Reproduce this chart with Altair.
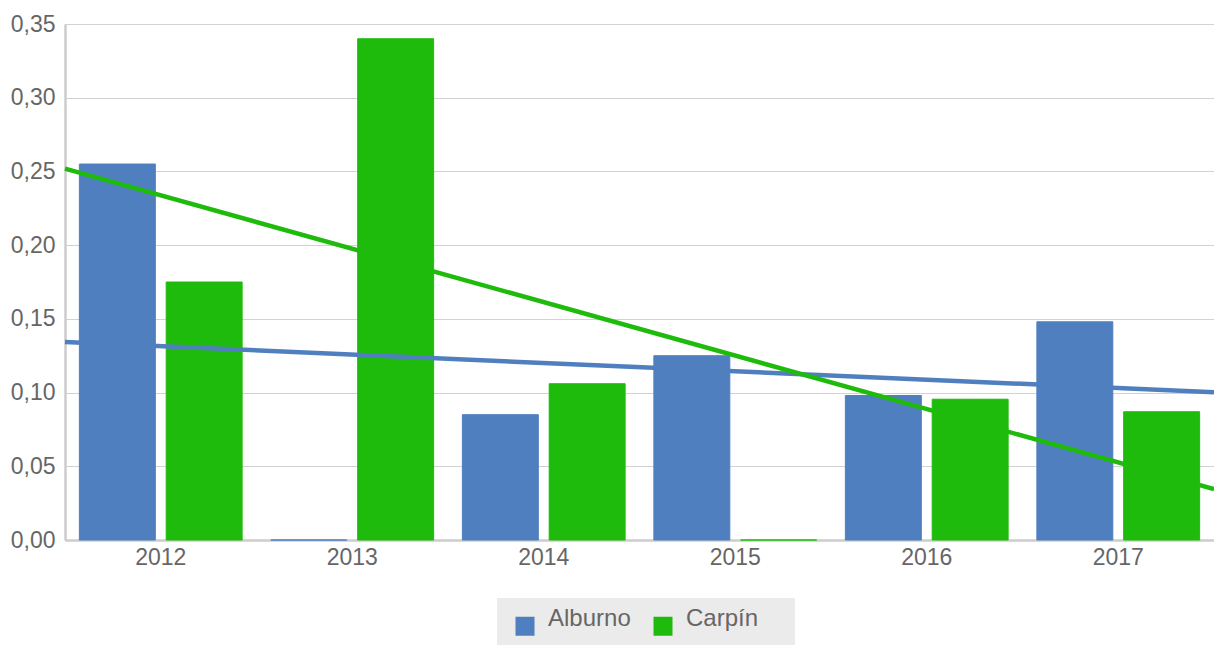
import altair as alt
import pandas as pd

years = ["2012", "2013", "2014", "2015", "2016", "2017"]
series_names = ["Alburno", "Carpín"]
alburno = [0.255, 0.0, 0.085, 0.125, 0.098, 0.148]
carpin = [0.175, 0.34, 0.106, 0.0, 0.0955, 0.087]
# trend lines: value at left edge and right edge of the plot
trend_start = [0.1343, 0.2519]
trend_end = [0.1002, 0.0345]
y_ticks = [0, 0.05, 0.10, 0.15, 0.20, 0.25, 0.30, 0.35]
colors = ["#4F7FBF", "#1FBB0C"]

bars_df = pd.DataFrame({
    "Año": years * 2,
    "Serie": [series_names[0]] * len(years) + [series_names[1]] * len(years),
    "Valor": alburno + carpin,
})
trend_df = pd.DataFrame({
    "Serie": series_names * 2,
    "pos": [0, 0, 1, 1],
    "Valor": trend_start + trend_end,
})

FONT = "Liberation Sans"
GRAY = "#666666"

color_scale = alt.Scale(domain=series_names, range=colors)
legend = alt.Legend(
    title=None, orient="none", legendX=432, legendY=574, direction="horizontal",
    fillColor="#ebebeb", padding=16,
    symbolType="square", symbolSize=361, symbolStrokeWidth=0, symbolOpacity=1,
    labelFont=FONT, labelFontSize=24, labelColor=GRAY, labelLimit=300,
    labelOffset=11, columnPadding=20, labelBaseline="alphabetic",
    labelExpr="datum.label == 'Carpín' ? 'Carpín   \u200b' : datum.label",
)

y_enc = alt.Y(
    "Valor:Q",
    scale=alt.Scale(domain=[0, 0.35], nice=False),
    axis=alt.Axis(
        title=None, values=y_ticks, ticks=False,
        labelExpr="replace(format(datum.value, '.2f'), '.', ',')",
        labelFont=FONT, labelFontSize=23, labelColor=GRAY, labelPadding=10,
        domainColor="#cccccc", domainWidth=2.5,
        gridColor="#d2d2d2", gridWidth=1.2,
    ),
)

bars = alt.Chart(bars_df).mark_bar(strokeWidth=1).encode(
    x=alt.X("Año:N", sort=years,
            scale=alt.Scale(paddingInner=0.15, paddingOuter=0.075),
            axis=alt.Axis(title=None, labelAngle=0, ticks=False, grid=False,
                          labelFont=FONT, labelFontSize=23, labelColor=GRAY,
                          labelPadding=6, domainColor="#cccccc", domainWidth=2.5)),
    xOffset=alt.XOffset("Serie:N", sort=series_names,
                        scale=alt.Scale(paddingInner=0.125, paddingOuter=0)),
    y=y_enc,
    color=alt.Color("Serie:N", scale=color_scale, legend=legend),
    stroke=alt.Stroke("Serie:N", scale=color_scale, legend=None),
)

lines = alt.Chart(trend_df).mark_line(strokeWidth=4.5, strokeCap="butt").encode(
    x=alt.X("pos:Q", scale=alt.Scale(domain=[0, 1], nice=False, zero=False), axis=None),
    y=alt.Y("Valor:Q"),
    color=alt.Color("Serie:N", scale=color_scale, legend=legend),
    detail="Serie:N",
)

chart = alt.layer(bars, lines).resolve_scale(x="independent").properties(
    width=1149, height=516,
    autosize=alt.AutoSizeParams(type="none"),
    padding={"left": 57, "top": 16, "right": 0, "bottom": 105},
).configure_view(stroke=None).configure(background="white")

chart.save("out.html", embed_options={"renderer": "svg", "actions": False})
